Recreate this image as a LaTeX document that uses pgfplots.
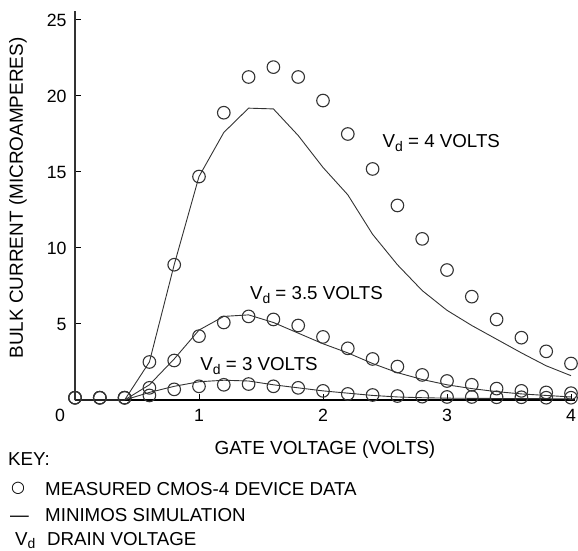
\documentclass[border=0pt]{standalone}
\usepackage{fontspec}
\setmainfont{Liberation Sans}
\newfontfamily\symfont{DejaVu Sans}
\usepackage{pgfplots}
\pgfplotsset{compat=1.18}
\newcommand{\Vd}{V\raisebox{-0.35ex}{\fontsize{14}{14}\selectfont d}}
\pgfplotstableread{
x y
0 0.15
0.2 0.15
0.4 0.15
0.6 2.5
0.8 8.9
1.0 14.7
1.2 18.9
1.4 21.25
1.6 21.9
1.8 21.25
2.0 19.7
2.2 17.5
2.4 15.2
2.6 12.8
2.8 10.6
3.0 8.55
3.2 6.8
3.4 5.3
3.6 4.1
3.8 3.2
4.0 2.4
}\measA
\pgfplotstableread{
x y
0 0.15
0.2 0.15
0.4 0.15
0.6 0.8
0.8 2.6
1.0 4.2
1.2 5.1
1.4 5.5
1.6 5.3
1.8 4.9
2.0 4.15
2.2 3.4
2.4 2.7
2.6 2.2
2.8 1.65
3.0 1.25
3.2 1.0
3.4 0.75
3.6 0.6
3.8 0.5
4.0 0.45
}\measB
\pgfplotstableread{
x y
0 0.15
0.2 0.15
0.4 0.15
0.6 0.3
0.8 0.7
1.0 0.9
1.2 1.0
1.4 1.05
1.6 0.9
1.8 0.8
2.0 0.6
2.2 0.4
2.4 0.33
2.6 0.26
2.8 0.22
3.0 0.2
3.2 0.2
3.4 0.18
3.6 0.18
3.8 0.15
4.0 0.15
}\measC
\pgfplotstableread{
x y
0 0
0.4 0
0.6 2.5
0.8 8.9
1.0 14.7
1.2 17.6
1.4 19.2
1.6 19.15
1.8 17.4
2.0 15.3
2.2 13.5
2.4 10.9
2.6 8.9
2.8 7.2
3.0 5.9
3.2 4.9
3.4 4.0
3.6 3.1
3.8 2.25
4.0 1.6
}\simA
\pgfplotstableread{
x y
0 0
0.4 0
0.6 1.0
0.8 2.7
1.0 4.6
1.2 5.5
1.4 5.6
1.6 5.1
1.8 4.4
2.0 3.7
2.2 3.1
2.4 2.4
2.6 1.8
2.8 1.35
3.0 1.0
3.2 0.75
3.4 0.55
3.6 0.4
3.8 0.3
4.0 0.2
}\simB
\pgfplotstableread{
x y
0 0
0.4 0
0.6 0.5
0.8 0.9
1.0 1.2
1.2 1.3
1.4 1.25
1.6 1.0
1.8 0.8
2.0 0.6
2.2 0.45
2.4 0.3
2.6 0.2
2.8 0.15
3.0 0.12
3.4 0.1
4.0 0.08
}\simC
\begin{document}
\fontsize{18.8}{22}\selectfont
\begin{tikzpicture}
\useasboundingbox (-75bp,-151bp) rectangle (503bp,400bp);
\begin{axis}[
  x=124bp, y=15.2bp,
  xmin=0, xmax=4.03, ymin=0, ymax=25.6,
  axis x line=bottom, axis y line=left,
  x axis line style={-, line width=1.8bp, black},
  y axis line style={-, line width=1.2bp, black!80},
  xtick={1,2,3,4}, ytick={5,10,15,20,25},
  tick align=inside,
  major tick length=6bp,
  tick style={line width=1bp, black},
  /pgf/number format/assume math mode=true,
  ticklabel style={font=\fontsize{17.8}{21}\selectfont},
  xticklabel style={yshift=-3bp},
  yticklabel style={xshift=-2bp},
  clip=false,
]
\addplot[black!80, line width=0.9bp] table {\simA};
\addplot[black!80, line width=0.9bp] table {\simB};
\addplot[black!80, line width=0.9bp] table {\simC};
\addplot[only marks, mark=o, mark size=6.3bp, mark options={line width=1.1bp, draw=black!80}] table {\measA};
\addplot[only marks, mark=o, mark size=6.3bp, mark options={line width=1.1bp, draw=black!80}] table {\measB};
\addplot[only marks, mark=o, mark size=6.3bp, mark options={line width=1.1bp, draw=black!80}] table {\measC};
\node[anchor=west, inner sep=0] at (axis cs:2.48,16.9) {\Vd{} = 4 VOLTS};
\node[anchor=west, inner sep=0] at (axis cs:1.41,6.9) {\Vd{} = 3.5 VOLTS};
\node[anchor=west, inner sep=0] at (axis cs:1.01,2.24) {\Vd{} = 3 VOLTS};
\node[anchor=center, inner sep=0, font=\fontsize{17.8}{21}\selectfont] at (axis cs:0,0) [xshift=-15bp, yshift=-15bp] {0};
\end{axis}
\node[rotate=90, anchor=center, inner sep=0, font=\fontsize{19}{22}\selectfont] at (-57bp,202bp) {BULK CURRENT (MICROAMPERES)};
\node[anchor=center, inner sep=0, font=\fontsize{19}{22}\selectfont] at (250bp,-50bp) {GATE VOLTAGE (VOLTS)};
\node[anchor=base west, inner sep=0] at (-67bp,-65bp) {KEY:};
\node[anchor=center, inner sep=0] at (-57bp,-88bp) {\symfont\fontsize{16}{16}\selectfont ○};
\node[anchor=base west, inner sep=0] at (-30bp,-95bp) {MEASURED CMOS-4 DEVICE DATA};
\node[anchor=base west, inner sep=0] at (-65bp,-121bp) {—};
\node[anchor=base west, inner sep=0] at (-30bp,-121bp) {MINIMOS SIMULATION};
\node[anchor=base west, inner sep=0] at (-60bp,-145bp) {\Vd};
\node[anchor=base west, inner sep=0] at (-28bp,-145bp) {DRAIN VOLTAGE};
\end{tikzpicture}
\end{document}
